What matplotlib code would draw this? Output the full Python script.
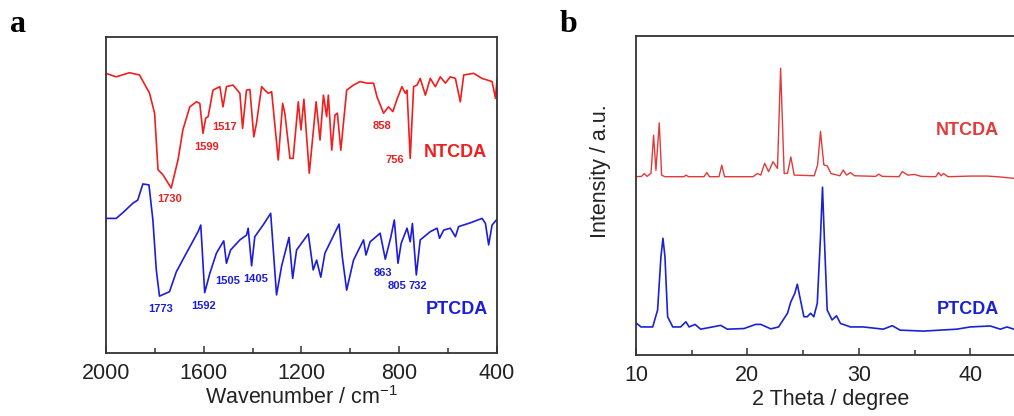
import matplotlib
matplotlib.use("Agg")
import matplotlib.pyplot as plt
from matplotlib.ticker import MultipleLocator

plt.rcParams["font.family"] = ["Liberation Sans", "DejaVu Sans"]
plt.rcParams["mathtext.fontset"] = "custom"
plt.rcParams["mathtext.rm"] = "Liberation Sans"
plt.rcParams["mathtext.it"] = "Liberation Sans"

# ---- FTIR (panel a), transmittance in arbitrary units ----
ntcda_ir_wn = [2000, 1958, 1904, 1863, 1822, 1801, 1787, 1767, 1733, 1705, 1685, 1657,
               1630, 1616, 1603, 1592, 1582, 1562, 1534, 1521, 1507, 1480, 1452, 1441,
               1425, 1411, 1395, 1384, 1363, 1350, 1336, 1322, 1295, 1277, 1268, 1247,
               1234, 1213, 1202, 1190, 1168, 1140, 1124, 1110, 1097, 1090, 1076, 1063,
               1053, 1039, 1015, 987, 960, 932, 905, 891, 864, 844, 826, 810, 789, 775,
               768, 755, 741, 727, 714, 693, 673, 652, 632, 611, 591, 570, 550, 536,
               495, 461, 440, 420, 406, 400]
ntcda_ir_t = [88.5, 87.4, 88.7, 88.0, 82.3, 75.9, 58.0, 56.4, 52.2, 61.2, 70.7, 77.9,
              79.5, 79.0, 69.5, 74.3, 74.8, 83.2, 84.3, 77.9, 84.3, 84.8, 82.2, 71.1,
              83.2, 83.4, 68.4, 72.7, 84.3, 83.2, 82.2, 82.7, 61.1, 79.0, 75.9, 61.6,
              61.6, 79.5, 70.6, 80.3, 56.9, 79.5, 67.4, 81.6, 74.8, 81.6, 64.2, 75.3,
              75.9, 64.2, 83.2, 84.8, 85.9, 85.4, 85.4, 81.1, 75.9, 77.9, 76.4, 80.1,
              84.3, 82.2, 83.2, 61.6, 84.3, 84.8, 86.9, 81.6, 86.9, 84.3, 87.4, 85.4,
              87.4, 86.9, 79.5, 88.0, 88.5, 86.9, 86.4, 85.9, 80.6, 86.4]

ptcda_ir_wn = [2000, 1958, 1931, 1890, 1870, 1849, 1824, 1808, 1794, 1781, 1740, 1712,
               1671, 1623, 1612, 1596, 1575, 1548, 1518, 1507, 1490, 1452, 1425, 1418,
               1404, 1391, 1357, 1326, 1302, 1281, 1251, 1236, 1220, 1172, 1152, 1138,
               1121, 1104, 1046, 1033, 1015, 987, 946, 936, 919, 878, 857, 834, 820,
               805, 792, 768, 755, 746, 730, 714, 673, 645, 635, 618, 591, 570, 557,
               509, 461, 447, 434, 420, 400]
ptcda_ir_t = [42.6, 42.6, 44.4, 47.4, 48.4, 53.5, 53.2, 42.1, 26.3, 18.0, 19.4, 25.7,
              31.6, 38.4, 40.5, 19.1, 25.2, 31.6, 35.5, 28.4, 32.6, 35.8, 37.3, 39.5,
              27.6, 36.8, 40.5, 44.2, 18.4, 27.6, 36.6, 23.6, 32.6, 37.7, 26.3, 29.4,
              24.0, 31.6, 40.8, 30.5, 19.9, 29.4, 35.8, 31.0, 35.2, 37.9, 29.7, 36.8,
              42.1, 28.4, 34.7, 39.5, 35.2, 41.0, 24.7, 35.8, 38.4, 39.5, 36.3, 38.9,
              39.5, 36.8, 40.0, 41.2, 42.6, 41.0, 34.2, 40.5, 42.3]

# (text, wavenumber, T) peak labels
ntcda_ir_peaks = [("1730", 1739, 48.7), ("1599", 1588, 65.2), ("1517", 1514, 71.5),
                  ("858", 870, 71.8), ("756", 816, 61.1)]
ptcda_ir_peaks = [("1773", 1776, 13.9), ("1592", 1600, 14.9), ("1505", 1502, 22.8),
                  ("1405", 1387, 23.4), ("863", 866, 25.3), ("805", 808, 21.2),
                  ("732", 722, 21.2)]

# ---- XRD (panel b), intensity in arbitrary units ----
ntcda_xrd_2t = [10.0, 10.5, 10.75, 11.0, 11.35, 11.58, 11.79, 12.09, 12.3, 12.6, 14.3,
                14.5, 14.7, 16.1, 16.36, 16.6, 17.45, 17.7, 17.95, 20.5, 20.9, 21.2,
                21.55, 21.9, 22.3, 22.7, 22.98, 23.3, 23.6, 23.9, 24.2, 26.0, 26.3,
                26.56, 26.86, 27.16, 27.5, 28.3, 28.6, 28.9, 29.25, 29.6, 31.5, 31.8,
                32.1, 33.6, 33.9, 34.4, 35.0, 35.6, 36.9, 37.15, 37.4, 37.6, 38.0,
                40.1, 41.5, 42.4, 43.9, 45.0]
ntcda_xrd_i = [55.9, 56.0, 56.9, 56.0, 57.0, 68.9, 57.9, 72.8, 56.4, 55.9, 55.9,
               56.4, 55.9, 55.9, 57.2, 55.9, 55.9, 59.5, 55.9, 55.9, 56.9, 56.4,
               60.1, 57.5, 60.6, 58.5, 89.9, 56.9, 57.0, 62.1, 56.4, 56.2, 59.6,
               70.1, 59.6, 59.3, 56.9, 56.2, 58.0, 56.4, 57.2, 56.2, 56.0, 56.7,
               56.0, 55.9, 57.5, 56.4, 56.6, 56.0, 55.9, 57.2, 56.2, 56.9, 55.9,
               56.1, 56.1, 55.9, 55.4, 55.4]

ptcda_xrd_2t = [10.0, 10.45, 11.5, 11.94, 12.24, 12.42, 12.6, 12.84, 13.3, 14.0, 14.48,
                14.77, 15.3, 15.8, 16.87, 17.6, 18.2, 19.7, 20.74, 21.2, 22.1, 22.8,
                23.3, 23.6, 23.9, 24.25, 24.48, 24.7, 25.07, 25.37, 25.67, 25.96,
                26.27, 26.56, 26.74, 26.9, 27.16, 27.6, 28.0, 28.35, 29.25, 30.4,
                32.2, 33.0, 33.7, 35.8, 38.8, 40.0, 41.8, 42.7, 43.3, 43.9, 45.0]
ptcda_xrd_i = [10.1, 8.8, 8.8, 14.1, 30.8, 36.6, 30.8, 12.0, 8.8, 8.8, 10.4,
               8.8, 9.6, 8.1, 8.8, 9.3, 8.1, 8.3, 9.6, 9.6, 8.2, 8.8,
               11.5, 13.1, 16.7, 19.3, 22.2, 18.3, 12.0, 12.0, 13.1, 12.0,
               16.2, 37.1, 52.6, 37.1, 14.1, 11.0, 12.3, 9.9, 8.8, 8.8,
               8.1, 9.2, 7.8, 7.5, 8.1, 8.8, 9.1, 8.1, 8.8, 8.1, 8.1]

RED_IR = "#f01e1e"
BLUE_IR = "#1c1cdc"
RED_XRD = "#e23a3a"
BLUE_XRD = "#1a22d6"
SPINE = "#333333"

fig = plt.figure(figsize=(10.14, 4.16), dpi=100)
ax1 = fig.add_axes([0.1045, 0.1514, 0.3856, 0.7596])
ax2 = fig.add_axes([0.6272, 0.1466, 0.3846, 0.7668])


def style(ax):
    for s in ax.spines.values():
        s.set_color(SPINE)
        s.set_linewidth(1.3)
    ax.tick_params(axis="x", which="both", direction="in", colors=SPINE,
                   labelcolor="#222222", labelsize=15.5, pad=7, width=1.1)
    ax.tick_params(axis="x", which="major", length=5)
    ax.tick_params(axis="x", which="minor", length=3.5)
    ax.set_yticks([])


# panel a
ax1.plot(ntcda_ir_wn, ntcda_ir_t, color=RED_IR, lw=1.2)
ax1.plot(ptcda_ir_wn, ptcda_ir_t, color=BLUE_IR, lw=1.2)
ax1.set_xlim(2000, 400)
ax1.set_ylim(0, 100)
ax1.xaxis.set_major_locator(MultipleLocator(400))
ax1.xaxis.set_minor_locator(MultipleLocator(200))
style(ax1)
ax1.set_xlabel(r"Wavenumber / cm$^{\mathregular{-1}}$", fontsize=15.5, color="#222222",
               labelpad=2)
for txt, x, y in ntcda_ir_peaks:
    ax1.text(x, y, txt, color=RED_IR, fontsize=8, fontweight="bold",
             ha="center", va="center")
for txt, x, y in ptcda_ir_peaks:
    ax1.text(x, y, txt, color=BLUE_IR, fontsize=8, fontweight="bold",
             ha="center", va="center")
ax1.text(570, 63.3, "NTCDA", color=RED_IR, fontsize=13, fontweight="bold",
         ha="center", va="center")
ax1.text(566, 13.9, "PTCDA", color=BLUE_IR, fontsize=13, fontweight="bold",
         ha="center", va="center")

# panel b
ax2.plot(ntcda_xrd_2t, ntcda_xrd_i, color=RED_XRD, lw=1.0)
ax2.plot(ptcda_xrd_2t, ptcda_xrd_i, color=BLUE_XRD, lw=1.2)
ax2.set_xlim(10, 45)
ax2.set_ylim(0, 100)
ax2.xaxis.set_major_locator(MultipleLocator(10))
ax2.xaxis.set_minor_locator(MultipleLocator(5))
style(ax2)
ax2.set_xlabel("2 Theta / degree", fontsize=15.5, color="#222222", labelpad=2)
ax2.set_ylabel("Intensity / a.u.", fontsize=15.5, color="#222222")
ax2.yaxis.set_label_coords(-0.065, 0.577)
ax2.text(39.7, 70.3, "NTCDA", color=RED_XRD, fontsize=13, fontweight="bold",
         ha="center", va="center")
ax2.text(39.8, 14.3, "PTCDA", color=BLUE_XRD, fontsize=13, fontweight="bold",
         ha="center", va="center")

# panel letters
fig.text(0.018, 0.923, "a", family=["Liberation Serif", "DejaVu Serif"],
         fontsize=23, fontweight="bold", ha="center", va="baseline")
fig.text(0.561, 0.923, "b", family=["Liberation Serif", "DejaVu Serif"],
         fontsize=23, fontweight="bold", ha="center", va="baseline")

fig.savefig("out.png", dpi=100, facecolor="white")
